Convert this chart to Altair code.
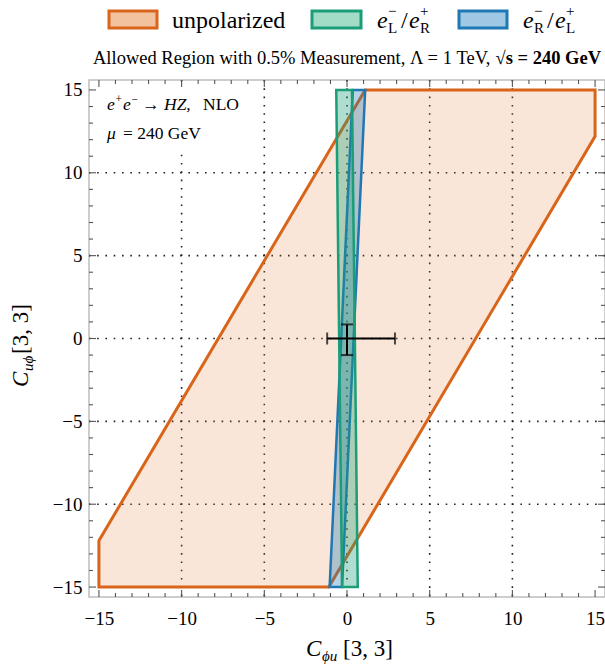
import altair as alt
import pandas as pd

# ---------------- data ----------------
unpol_x = [-15.0, -15.0, 1.1, 15.0, 15.0, -1.1]
unpol_y = [-15.0, -12.2, 15.0, 15.0, 12.2, -15.0]
lr_x = [-0.65, 0.3, 0.65, -0.3]          # e_L^- / e_R^+
lr_y = [15.0, 15.0, -15.0, -15.0]
rl_x = [0.35, 1.1, -0.3, -1.05]          # e_R^- / e_L^+
rl_y = [15.0, 15.0, -15.0, -15.0]
center_x = [0.0]
center_y = [0.0]
x_err = [-1.2, 2.9]
y_err = [-1.0, 0.85]
major_ticks = [-15, -10, -5, 0, 5, 10, 15]
minor_ticks = [v for v in range(-15, 16) if v % 5 != 0]
grid_vals = [-10, -5, 0, 5, 10]

# ---------------- layout ----------------
OX, OY = 89, 80          # plot origin on page
W, H = 516, 517
FONT = "Liberation Serif"
DOM = [-15.6, 15.6]

xs = alt.Scale(domain=DOM, nice=False, zero=False)
ys = alt.Scale(domain=DOM, nice=False, zero=False)
xaxis = alt.Axis(values=major_ticks, ticks=False, domain=False, grid=False, title=None,
                 labelFont=FONT, labelFontSize=19, labelColor="black", labelPadding=12)
yaxis = alt.Axis(values=major_ticks, ticks=False, domain=False, grid=False, title=None,
                 labelFont=FONT, labelFontSize=19, labelColor="black", labelPadding=7)


def X(f):
    return alt.X(f, type="quantitative", scale=xs, axis=xaxis)


def Y(f):
    return alt.Y(f, type="quantitative", scale=ys, axis=yaxis)


layers = []

# grid
gdf = pd.DataFrame({"v": grid_vals})
layers.append(alt.Chart(gdf).mark_rule(color="#222", strokeWidth=1.6, strokeDash=[1.6, 6.7]).encode(x=X("v")))
layers.append(alt.Chart(gdf).mark_rule(color="#222", strokeWidth=1.6, strokeDash=[1.6, 6.7]).encode(y=Y("v")))

one = pd.DataFrame({"a": [0]})


def txt(s, px, py, size, style="normal", weight="normal", align="left", angle=0):
    kw = dict(text=s, fontSize=size, font=FONT, fontStyle=style, fontWeight=weight,
              align=align, baseline="alphabetic", color="black")
    if angle:
        kw["angle"] = angle
    return alt.Chart(one).mark_text(**kw).encode(x=alt.value(px - OX), y=alt.value(py - OY))


def rect(x1, x2, y1, y2, fill, stroke, sw=3):
    return alt.Chart(one).mark_rect(fill=fill, stroke=stroke, strokeWidth=sw).encode(
        x=alt.value(x1 - OX), x2=alt.value(x2 - OX), y=alt.value(y1 - OY), y2=alt.value(y2 - OY))


# white background behind the in-plot annotation
layers.append(alt.Chart(one).mark_rect(fill="white").encode(
    x=alt.value(96 - OX), x2=alt.value(252 - OX), y=alt.value(83 - OY), y2=alt.value(151 - OY)))


def poly(px, py, fill, fop, stroke, sw):
    df = pd.DataFrame({"x": px, "y": py, "i": list(range(len(px)))})
    return alt.Chart(df).mark_line(interpolate="linear-closed", fill=fill, fillOpacity=fop,
                                   stroke=stroke, strokeWidth=sw, strokeJoin="miter").encode(
        x=X("x"), y=Y("y"), order=alt.Order("i:Q"))


layers.append(poly(unpol_x, unpol_y, "#E8833A", 0.2, "#D8651A", 3))
layers.append(poly(rl_x, rl_y, "#1F77B4", 0.33, "#1F77B4", 2.5))
layers.append(poly(lr_x, lr_y, "#1A9E77", 0.35, "#1A9E77", 2.5))

# error bars
edf = pd.DataFrame({"cx": center_x, "cy": center_y,
                    "xl": [x_err[0]], "xh": [x_err[1]], "yl": [y_err[0]], "yh": [y_err[1]]})
layers.append(alt.Chart(edf).mark_rule(color="black", strokeWidth=2).encode(
    x=X("xl"), x2="xh", y=Y("cy")))
layers.append(alt.Chart(edf).mark_rule(color="black", strokeWidth=2).encode(
    y=Y("yl"), y2="yh", x=X("cx")))
cap_x = pd.DataFrame({"x": x_err, "y": center_y * 2})
cap_y = pd.DataFrame({"x": center_x * 2, "y": y_err})
layers.append(alt.Chart(cap_x).mark_tick(color="black", thickness=2, size=12, orient="vertical").encode(
    x=X("x"), y=Y("y")))
layers.append(alt.Chart(cap_y).mark_tick(color="black", thickness=2, size=12, orient="horizontal").encode(
    x=X("x"), y=Y("y")))

# frame ticks (inward)
TC = "#555"
for vals, ln in ((major_ticks, 7), (minor_ticks, 4)):
    tdf = pd.DataFrame({"v": vals})
    base = alt.Chart(tdf).mark_rule(color=TC, strokeWidth=1.1)
    layers.append(base.encode(x=X("v"), y=alt.value(H), y2=alt.value(H - ln)))
    layers.append(base.encode(x=X("v"), y=alt.value(0), y2=alt.value(ln)))
    layers.append(base.encode(y=Y("v"), x=alt.value(0), x2=alt.value(ln)))
    layers.append(base.encode(y=Y("v"), x=alt.value(W), x2=alt.value(W - ln)))

# title
layers.append(txt("Allowed Region with 0.5% Measurement,  Λ = 1 TeV,", 93, 64, 18.5))
layers.append(txt("√s = 240 GeV", 601, 64, 18.5, weight="bold", align="right"))

# legend
LB = 28
layers.append(rect(109, 157, 11, 28, "#F2C29E", "#D8651A"))
layers.append(txt("unpolarized", 172, LB, 24))
layers.append(rect(312, 361, 11, 28, "#A3DCC6", "#1A9E77"))
layers.append(rect(459, 507, 11, 28, "#9EC8E4", "#1F77B4"))


def ee_label(x0, a, b):
    out = []
    out.append(txt("e", x0, LB, 24, style="italic"))
    out.append(txt("−", x0 + 11, LB - 12, 15))
    out.append(txt(a, x0 + 11, LB + 5, 15))
    out.append(txt("/", x0 + 24, LB, 24))
    out.append(txt("e", x0 + 32, LB, 24, style="italic"))
    out.append(txt("+", x0 + 43, LB - 12, 15))
    out.append(txt(b, x0 + 43, LB + 5, 15))
    return out


layers += ee_label(377, "L", "R")
layers += ee_label(523, "R", "L")

# in-plot annotations
AB = 110
layers.append(txt("e", 107, AB, 17.5, style="italic"))
layers.append(txt("+", 115.5, AB - 7, 11.5))
layers.append(txt("e", 123, AB, 17.5, style="italic"))
layers.append(txt("−", 131.5, AB - 7, 11.5))
layers.append(txt("→", 142, AB, 17.5))
layers.append(txt("HZ,", 164, AB, 17.5, style="italic"))
layers.append(txt("NLO", 203, AB, 17.5))
layers.append(txt("μ", 107, 139, 17.5, style="italic"))
layers.append(txt("= 240 GeV", 123, 139, 17.5))

# axis titles
layers.append(txt("C", 306, 656, 23, style="italic"))
layers.append(txt("ϕu", 322, 661, 15, style="italic"))
layers.append(txt("[3, 3]", 343, 656, 23))

layers.append(txt("C", 28, 387, 23, style="italic", angle=270))
layers.append(txt("uϕ", 33, 371, 15, style="italic", angle=270))
layers.append(txt("[3, 3]", 28, 354, 23, angle=270))

chart = alt.layer(*layers).properties(
    width=W, height=H, autosize="none",
    padding={"left": OX, "top": OY, "right": 605 - OX - W, "bottom": 670 - OY - H},
).configure_view(stroke="#bdbdbd", strokeWidth=1.5)

chart.save("out.html", embed_options={"renderer": "svg", "actions": False})
